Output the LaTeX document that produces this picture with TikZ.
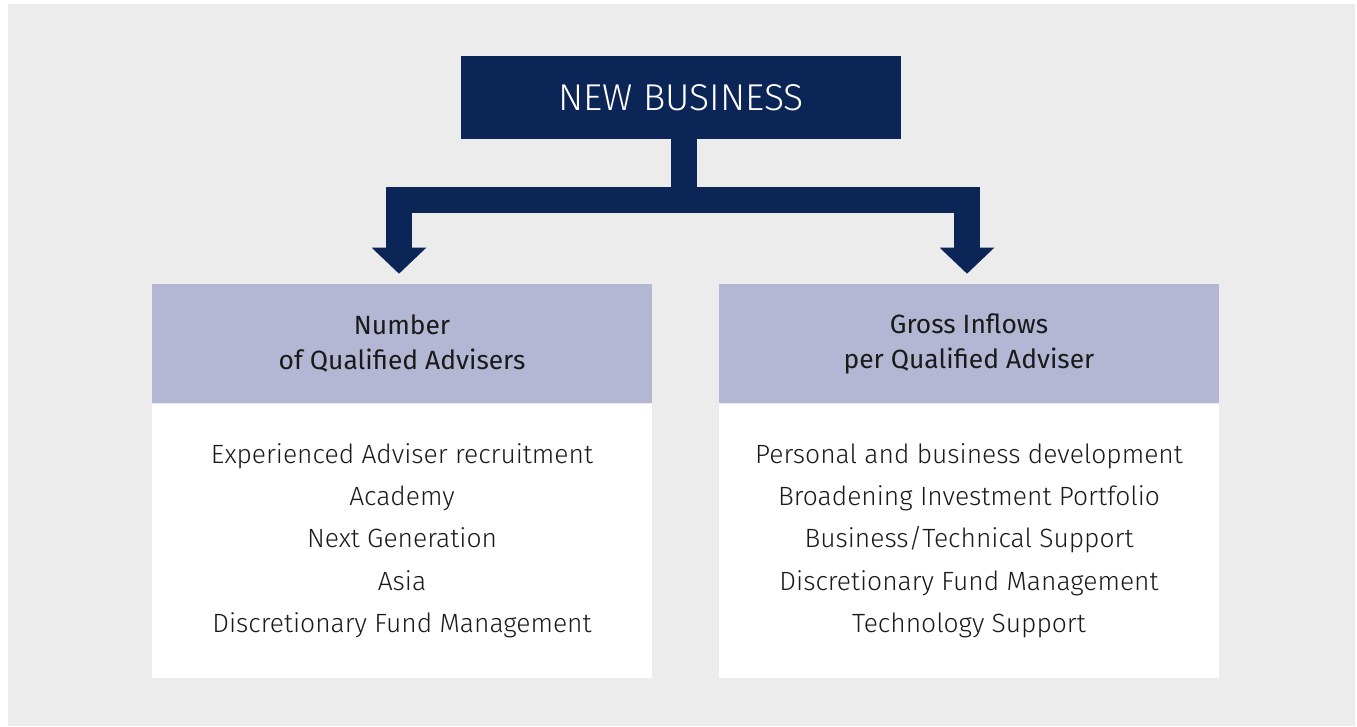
\documentclass[tikz,border=0pt]{standalone}
\usepackage{fontspec}
\setmainfont{Fira Sans}
\newfontfamily\lightfont{Fira Sans Light}
\usetikzlibrary{positioning, arrows.meta}
\definecolor{navy}{HTML}{0C2557}
\definecolor{lavender}{HTML}{B3B7D3}
\definecolor{panel}{HTML}{ECECEC}
\definecolor{ink}{HTML}{1A1A1A}

\begin{document}
\begin{tikzpicture}[x=0.75pt, y=-0.75pt]

\tikzset{
title/.style = {rectangle, fill = navy, text = white, minimum width = 330pt,
	minimum height = 62.25pt, inner sep = 0pt, font = \lightfont\fontsize{28}{32}\selectfont},
head/.style = {rectangle, fill = lavender, text = ink, minimum width = 375pt,
	minimum height = 89.25pt, inner sep = 0pt, align = center,
	font = \fontsize{19.8}{26.25}\selectfont},
body/.style = {rectangle, fill = white, text = ink, minimum width = 375pt,
	minimum height = 205.5pt, inner sep = 0pt, align = center,
	font = \lightfont\fontsize{19.8}{31.7}\selectfont},
branch/.style = {navy, line width = 19.5pt, line join = miter},
}

%% Background
\useasboundingbox (0,0) rectangle (1357,726);
\fill [panel] (8,4) rectangle (1355,726);

%% Top
\node at (681, 97.5) [title] (newbiz) {NEW BUSINESS};

%% Two columns
\node at (402, 343.5) [head] (advHead) {Number\\of Qualified Advisers};
\node [body, below = 0pt of advHead] (advBody) {Experienced Adviser recruitment\\
	Academy\\Next Generation\\Asia\\Discretionary Fund Management};

\node at (969, 343.5) [head] (flowHead) {Gross Inflows\\per Qualified Adviser};
\node [body, below = 0pt of flowHead] (flowBody) {Personal and business development\\
	Broadening Investment Portfolio\\Business/Technical Support\\
	Discretionary Fund Management\\Technology Support};

%% Arrows
\coordinate (bar) at (683.5, 200);
\draw [branch] (newbiz.south -| bar) -- (bar);
\draw [branch, {Triangle[length = 19.5pt, width = 39.75pt]}-{Triangle[length = 19.5pt, width = 39.75pt]},
	shorten < = 7.5pt, shorten > = 7.5pt] ([xshift = -2.25pt]advHead.north) |- (bar) -| ([xshift = -1.5pt]flowHead.north);

\end{tikzpicture}
\end{document}
